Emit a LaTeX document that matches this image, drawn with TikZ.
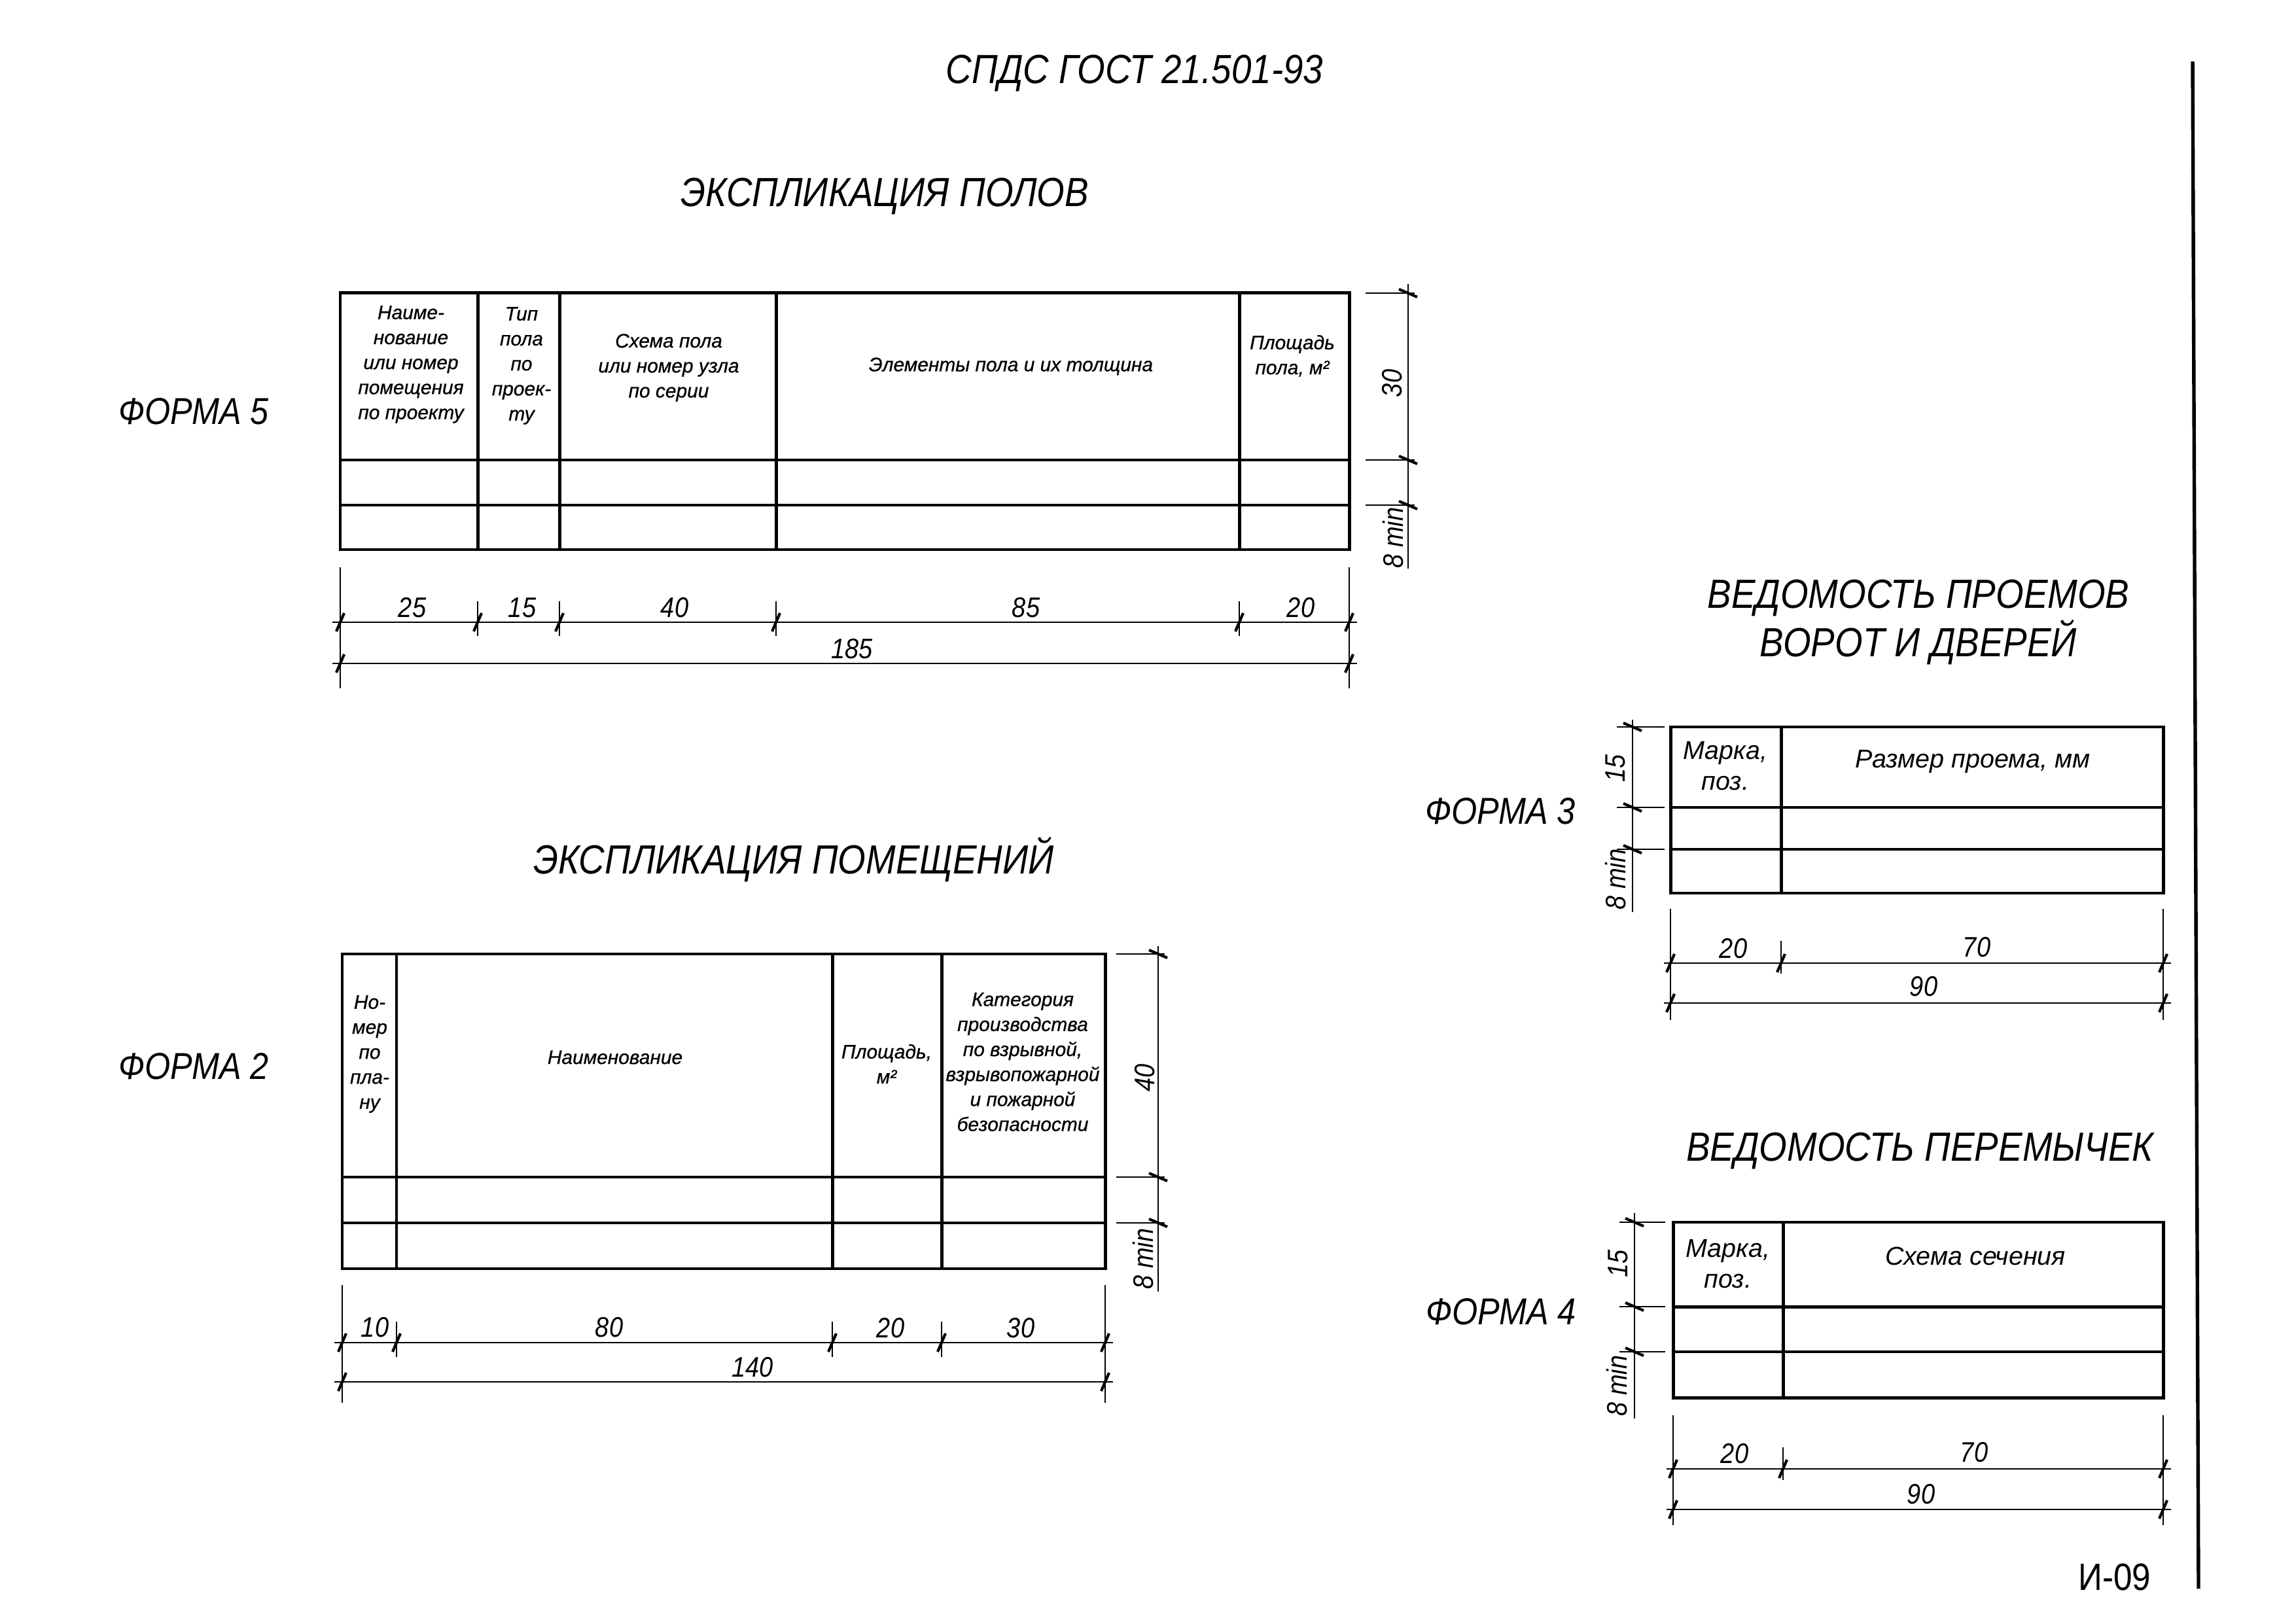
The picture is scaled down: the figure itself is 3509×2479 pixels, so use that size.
\documentclass[tikz,border=0pt]{standalone}
\usepackage{fontspec}
\setmainfont{Liberation Sans}
\newfontfamily\gost[FakeStretch=0.88]{Liberation Sans}
\newfontfamily\hdrfont[FakeBold=0.7]{Liberation Sans}
\newcommand\dimtickh[2]{\draw[tk] ({#1-6},{#2+14}) -- ({#1+6},{#2-14});}
\newcommand\dimtickv[2]{\draw[tk] ({#1-14},{#2-6}) -- ({#1+14},{#2+6});}
\begin{document}
\begin{tikzpicture}[x=0.084667mm,y=-0.084667mm,
 frame/.style={line width=1.2pt},
 rowline/.style={line width=0.8pt},
 dimline/.style={line width=0.7pt},
 tk/.style={line width=1pt},
 ttl/.style={font=\gost\itshape\fontsize{15}{16}\selectfont, inner sep=0, align=center},
 frm/.style={font=\gost\itshape\fontsize{13.8}{16}\selectfont, inner sep=0},
 hs/.style={font=\hdrfont\itshape\fontsize{7.2}{9.2}\selectfont, align=center, inner sep=0},
 hm/.style={font=\itshape\fontsize{9.5}{11.3}\selectfont, align=center, inner sep=0},
 num/.style={font=\gost\itshape\fontsize{10.4}{12}\selectfont, inner sep=0}]
\useasboundingbox (0,0) rectangle (3509,2479);
\fill[white] (0,0) rectangle (3509,2479);

% ---------- titles ----------
\node[ttl] (hdr) at (1734,112) {СПДС ГОСТ 21.501-93};
\node[ttl] (t5) at (1352,300) {ЭКСПЛИКАЦИЯ ПОЛОВ};
\node[ttl] (t2) at (1213,1314) {ЭКСПЛИКАЦИЯ ПОМЕЩЕНИЙ};
\node[ttl] (t3) at (2932,951) {ВЕДОМОСТЬ ПРОЕМОВ\\[0.5pt]ВОРОТ И ДВЕРЕЙ};
\node[ttl] (t4) at (2934,1759) {ВЕДОМОСТЬ ПЕРЕМЫЧЕК};
\node[frm] (f5) at (296,629) {ФОРМА 5};
\node[frm] (f2) at (296,1630) {ФОРМА 2};
\node[frm] (f3) at (2293,1240) {ФОРМА 3};
\node[frm] (f4) at (2294,2005) {ФОРМА 4};
\node[font=\gost\fontsize{14}{16}\selectfont, inner sep=0] (pg) at (3232,2410) {И-09};
\draw[line width=1.3pt] (3351,94) -- (3360,2428);

% ---------- Form 5 table ----------
\draw[frame] (520,448) rectangle (2062,840);
\draw[frame] (520,703) -- (2062,703);
\draw[rowline] (520,772) -- (2062,772);
\foreach \c in {730,855,1186,1894} \draw[frame] (\c,448) -- (\c,840);
\node[hs] (f5a) at (628,557) {Наиме-\\нование\\или номер\\помещения\\по проекту};
\node[hs] (f5b) at (797,559) {Тип\\пола\\по\\проек-\\ту};
\node[hs] (f5c) at (1022,562) {Схема пола\\или номер узла\\по серии};
\node[hs] (f5d) at (1545,560) {Элементы пола и их толщина};
\node[hs] (f5e) at (1975,544) {Площадь\\пола, м²};
% horizontal dims
\draw[dimline] (520,867) -- (520,1052);
\draw[dimline] (2062,867) -- (2062,1052);
\foreach \c in {730,855,1186,1894} \draw[dimline] (\c,919) -- (\c,972);
\draw[dimline] (508,951) -- (2074,951);
\draw[dimline] (508,1014) -- (2074,1014);
\foreach \c in {520,730,855,1186,1894,2062} {\dimtickh{\c}{951}}
\foreach \c in {520,2062} {\dimtickh{\c}{1014}}
\node[num] (d5a) at (630,929) {25};
\node[num] (d5b) at (798,929) {15};
\node[num] (d5c) at (1031,929) {40};
\node[num] (d5d) at (1568,929) {85};
\node[num] (d5e) at (1988,929) {20};
\node[num] (d5f) at (1302,992) {185};
% vertical dims
\draw[dimline] (2152,434) -- (2152,869);
\foreach \r in {448,703,772} {\draw[dimline] (2087,\r) -- (2162,\r); \dimtickv{2152}{\r}}
\node[num, rotate=90] (d5g) at (2128,586) {30};
\node[num, rotate=90] (d5h) at (2129,822) {8 min};

% ---------- Form 2 table ----------
\draw[frame] (523,1458) rectangle (1689,1939);
\draw[frame] (523,1799) -- (1689,1799);
\draw[rowline] (523,1869) -- (1689,1869);
\foreach \c in {606,1272,1439} \draw[frame] (\c,1458) -- (\c,1939);
\node[hs] (f2a) at (565,1611) {Но-\\мер\\по\\пла-\\ну};
\node[hs] (f2b) at (940,1616) {Наименование};
\node[hs] (f2c) at (1355,1626) {Площадь,\\м²};
\node[hs] (f2d) at (1563,1623) {Категория\\производства\\по взрывной,\\взрывопожарной\\и пожарной\\безопасности};
\draw[dimline] (523,1964) -- (523,2144);
\draw[dimline] (1689,1964) -- (1689,2144);
\foreach \c in {606,1272,1439} \draw[dimline] (\c,2020) -- (\c,2074);
\draw[dimline] (511,2052) -- (1701,2052);
\draw[dimline] (511,2112) -- (1701,2112);
\foreach \c in {523,606,1272,1439,1689} {\dimtickh{\c}{2052}}
\foreach \c in {523,1689} {\dimtickh{\c}{2112}}
\node[num] (d2a) at (573,2029) {10};
\node[num] (d2b) at (931,2029) {80};
\node[num] (d2c) at (1361,2030) {20};
\node[num] (d2d) at (1560,2030) {30};
\node[num] (d2e) at (1150,2090) {140};
\draw[dimline] (1770,1446) -- (1770,1974);
\foreach \r in {1458,1799,1869} {\draw[dimline] (1706,\r) -- (1780,\r); \dimtickv{1770}{\r}}
\node[num, rotate=90] (d2f) at (1750,1647) {40};
\node[num, rotate=90] (d2g) at (1747,1924) {8 min};

% ---------- Form 3 table ----------
\draw[frame] (2553,1111) rectangle (3306,1365);
\draw[frame] (2553,1234) -- (3306,1234);
\draw[rowline] (2553,1298) -- (3306,1298);
\draw[frame] (2722,1111) -- (2722,1365);
\node[hm] (f3a) at (2637,1171) {Марка,\\поз.};
\node[hm] (f3b) at (3015,1164) {Размер проема, мм};
\draw[dimline] (2553,1389) -- (2553,1559);
\draw[dimline] (3306,1389) -- (3306,1559);
\draw[dimline] (2722,1438) -- (2722,1488);
\draw[dimline] (2543,1472) -- (3318,1472);
\draw[dimline] (2543,1533) -- (3318,1533);
\foreach \c in {2553,2722,3306} {\dimtickh{\c}{1472}}
\foreach \c in {2553,3306} {\dimtickh{\c}{1533}}
\node[num] (d3a) at (2649,1450) {20};
\node[num] (d3b) at (3021,1448) {70};
\node[num] (d3c) at (2940,1508) {90};
\draw[dimline] (2495,1100) -- (2495,1394);
\foreach \r in {1111,1234,1298} {\draw[dimline] (2471,\r) -- (2544,\r); \dimtickv{2495}{\r}}
\node[num, rotate=90] (d3d) at (2469,1174) {15};
\node[num, rotate=90] (d3e) at (2469,1344) {8 min};

% ---------- Form 4 table ----------
\draw[frame] (2557,1868) rectangle (3306,2136);
\draw[frame] (2557,1997) -- (3306,1997);
\draw[rowline] (2557,2066) -- (3306,2066);
\draw[frame] (2725,1868) -- (2725,2136);
\node[hm] (f4a) at (2641,1932) {Марка,\\поз.};
\node[hm] (f4b) at (3019,1920) {Схема сечения};
\draw[dimline] (2557,2163) -- (2557,2331);
\draw[dimline] (3306,2163) -- (3306,2331);
\draw[dimline] (2725,2212) -- (2725,2262);
\draw[dimline] (2547,2245) -- (3318,2245);
\draw[dimline] (2547,2307) -- (3318,2307);
\foreach \c in {2557,2725,3306} {\dimtickh{\c}{2245}}
\foreach \c in {2557,3306} {\dimtickh{\c}{2307}}
\node[num] (d4a) at (2651,2222) {20};
\node[num] (d4b) at (3017,2220) {70};
\node[num] (d4c) at (2936,2284) {90};
\draw[dimline] (2498,1854) -- (2498,2168);
\foreach \r in {1868,1997,2066} {\draw[dimline] (2475,\r) -- (2545,\r); \dimtickv{2498}{\r}}
\node[num, rotate=90] (d4d) at (2473,1931) {15};
\node[num, rotate=90] (d4e) at (2471,2118) {8 min};
\end{tikzpicture}
\end{document}
